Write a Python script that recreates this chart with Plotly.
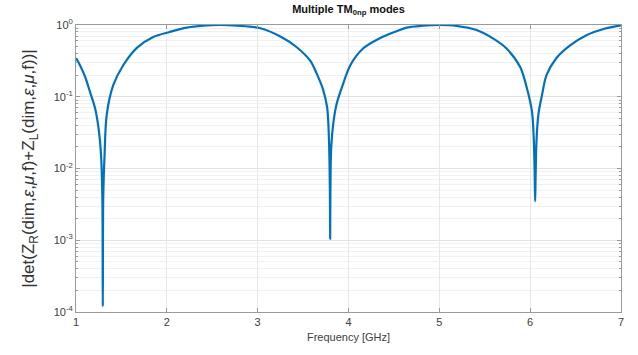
import plotly.graph_objects as go

freq_ghz = [1.00, 1.044, 1.10, 1.154, 1.21, 1.25, 1.275, 1.290, 1.295, 1.300, 1.315, 1.338,
            1.41, 1.52, 1.67, 1.85, 2.03, 2.22, 2.40, 2.59, 2.77, 3.03, 3.25, 3.43, 3.58,
            3.65, 3.72, 3.765, 3.785, 3.795, 3.798, 3.801, 3.81, 3.835, 3.87, 3.93, 4.02,
            4.16, 4.35, 4.53, 4.64, 4.82, 5.00, 5.19, 5.41, 5.59, 5.74, 5.89, 5.96, 6.02,
            6.04, 6.05, 6.055, 6.06, 6.07, 6.09, 6.13, 6.18, 6.29, 6.44, 6.62, 6.81, 7.00]
det_mag = [0.347, 0.275, 0.19, 0.117, 0.069, 0.035, 0.016, 0.004, 1.2e-4, 0.004, 0.016, 0.056,
           0.145, 0.275, 0.48, 0.68, 0.80, 0.92, 0.977, 1.0, 0.977, 0.90, 0.69, 0.49, 0.316,
           0.21, 0.126, 0.071, 0.025, 0.005, 1.05e-3, 0.005, 0.02, 0.045, 0.08, 0.138, 0.275,
           0.47, 0.66, 0.82, 0.92, 0.977, 1.0, 0.97, 0.85, 0.65, 0.47, 0.26, 0.138, 0.062,
           0.025, 0.008, 3.5e-3, 0.008, 0.025, 0.056, 0.105, 0.20, 0.347, 0.52, 0.72, 0.88, 0.99]

x_ticks = [1, 2, 3, 4, 5, 6, 7]
y_ticks = [1e-4, 1e-3, 1e-2, 1e-1, 1]
y_ticktext = ["10<sup>-4</sup>", "10<sup>-3</sup>", "10<sup>-2</sup>", "10<sup>-1</sup>", "10<sup>0</sup>"]
y_minor = [m * 10 ** e for e in range(-4, 0) for m in range(2, 10)]

FONT = "Liberation Sans, Arial, sans-serif"
AXC = "#9a9a9a"

fig = go.Figure()
fig.add_trace(go.Scatter(x=freq_ghz, y=det_mag, mode="lines",
                         line=dict(color="#0072BD", width=2.2, shape="spline", smoothing=0.9),
                         showlegend=False))

fig.update_layout(
    width=638, height=355,
    margin=dict(l=76, r=17, t=25, b=43),
    paper_bgcolor="white", plot_bgcolor="white",
    font=dict(family=FONT, color="#404040", size=11),
    title=dict(text="<b>Multiple TM<sub>0np</sub> modes</b>", x=0.5, xanchor="center",
               xref="paper", y=0.985, yanchor="top",
               font=dict(size=11, color="#111111")),
)
fig.update_xaxes(
    range=[1, 7], tickvals=x_ticks, ticks="inside", ticklen=4, tickcolor=AXC,
    showline=True, linecolor=AXC, linewidth=1, mirror="ticks",
    showgrid=True, gridcolor="#e8e8e8", zeroline=False,
    tickfont=dict(size=11, color="#404040"),
    title=dict(text="Frequency [GHz]", font=dict(size=11, color="#404040"), standoff=6),
)
fig.update_yaxes(
    type="log", range=[-4, 0], tickvals=y_ticks, ticktext=y_ticktext,
    ticks="inside", ticklen=4, tickcolor=AXC,
    showline=True, linecolor=AXC, linewidth=1, mirror="ticks",
    showgrid=True, gridcolor="#e3e3e3", zeroline=False,
    tickfont=dict(size=11, color="#404040"),
    minor=dict(tickvals=y_minor, ticks="inside", ticklen=2, tickcolor=AXC,
               showgrid=True, gridcolor="#f1f1f1"),
    title=dict(text="|det(Z<sub>R</sub>(dim,<i>ε</i>,<i>μ</i>,f)+Z<sub>L</sub>(dim,<i>ε</i>,<i>μ</i>,f))|",
               font=dict(size=17, color="#333333"), standoff=14),
)

fig.write_html("out.html")
